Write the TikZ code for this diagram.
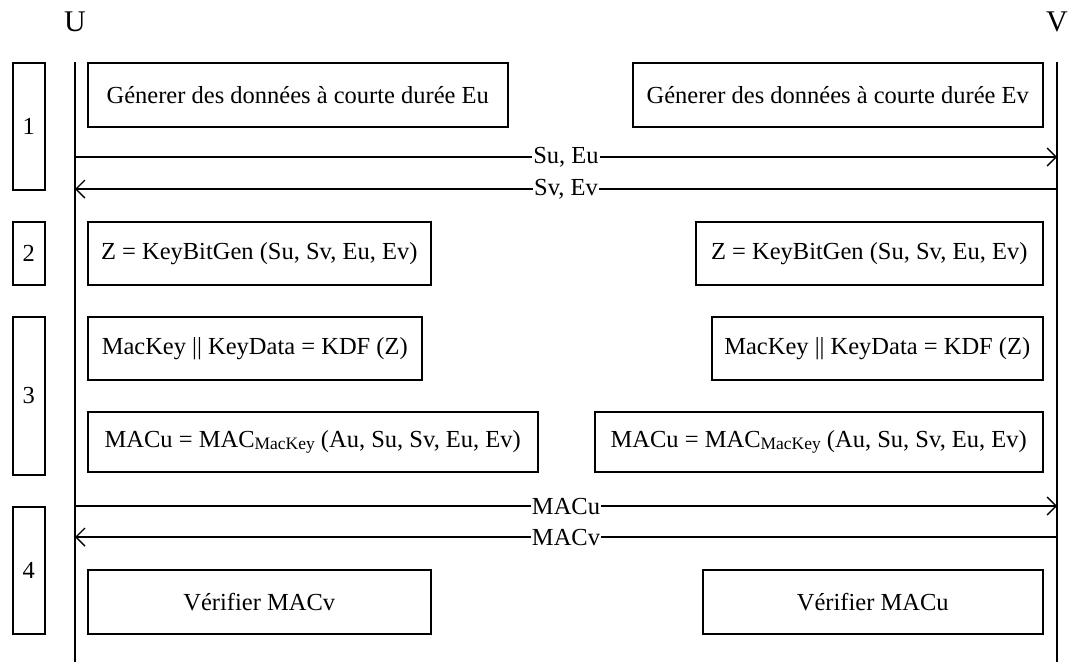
\documentclass[tikz,border=0pt]{standalone}
\usepackage{fontspec}
\setmainfont{Liberation Serif}
\usetikzlibrary{arrows.meta}
\newcommand{\mkidx}{\raisebox{-1.5pt}{\fontsize{17.5}{17.5}\selectfont MacKey}}
\begin{document}
\begin{tikzpicture}[x=1pt,y=-1pt,
  font=\fontsize{24.5}{28}\selectfont,
  line width=1.5pt,
  box/.style={draw, line width=1.5pt, inner sep=0pt, anchor=north west},
  msg/.style={-{Straight Barb[length=9pt,width=18pt]}, line width=1.4pt},
  lbl/.style={fill=white, inner sep=1pt, midway},
  party/.style={font=\fontsize{30}{34}\selectfont}]
\useasboundingbox (0,0) rectangle (1068,662);

% parties
\node[party] (U) at (75,22) {U};
\node[party] (V) at (1057,22) {V};

% lifelines
\coordinate (Ut) at (75,62);
\coordinate (Ub) at (75,662);
\coordinate (Vt) at (1057,62);
\coordinate (Vb) at (1057,662);
\draw (Ut) -- (Ub);
\draw (Vt) -- (Vb);

% phase boxes
\node[box, minimum width=32pt, minimum height=127pt] (p1) at (12,62) {1};
\node[box, minimum width=32pt, minimum height=63pt] (p2) at (12,221) {2};
\node[box, minimum width=32pt, minimum height=158pt] (p3) at (12,316) {3};
\node[box, minimum width=32pt, minimum height=127pt] (p4) at (12,506) {4};

% step boxes
\node[box, minimum width=420pt, minimum height=64pt] (gu) at (87,62) {Génerer des données à courte durée Eu};
\node[box, minimum width=410pt, minimum height=64pt] (gv) at (632,62) {Génerer des données à courte durée Ev};
\node[box, minimum width=343pt, minimum height=63pt] (zu) at (87,221) {Z = KeyBitGen (Su, Sv, Eu, Ev)};
\node[box, minimum width=347pt, minimum height=63pt] (zv) at (695,221) {Z = KeyBitGen (Su, Sv, Eu, Ev)};
\node[box, minimum width=334pt, minimum height=63pt] (ku) at (87,316) {MacKey || KeyData = KDF (Z)};
\node[box, minimum width=331pt, minimum height=63pt] (kv) at (711,316) {MacKey || KeyData = KDF (Z)};
\node[box, minimum width=450pt, minimum height=60pt] (mu) at (87,411) {MACu = MAC\mkidx{} (Au, Su, Sv, Eu, Ev)};
\node[box, minimum width=448pt, minimum height=60pt] (mv) at (594,411) {MACu = MAC\mkidx{} (Au, Su, Sv, Eu, Ev)};
\node[box, minimum width=343pt, minimum height=64pt] (vu) at (87,569) {Vérifier MACv};
\node[box, minimum width=340pt, minimum height=64pt] (vv) at (702,569) {Vérifier MACu};

% messages
\coordinate (u1) at (75,157);  \coordinate (v1) at (1057,157);
\coordinate (u2) at (75,189);  \coordinate (v2) at (1057,189);
\coordinate (u3) at (75,506);  \coordinate (v3) at (1057,506);
\coordinate (u4) at (75,537);  \coordinate (v4) at (1057,537);
\draw[msg] (u1) -- node[lbl] {Su, Eu} (v1);
\draw[msg] (v2) -- node[lbl] {Sv, Ev} (u2);
\draw[msg] (u3) -- node[lbl] {MACu} (v3);
\draw[msg] (v4) -- node[lbl] {MACv} (u4);
\end{tikzpicture}
\end{document}
